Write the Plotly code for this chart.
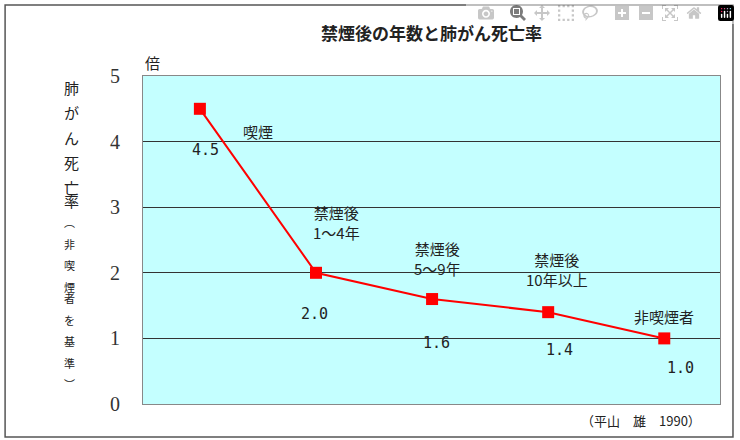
import plotly.graph_objects as go

categories = ["喫煙", "禁煙後<br>1～4年", "禁煙後<br>5～9年", "禁煙後<br>10年以上", "非喫煙者"]
values = [4.5, 2.0, 1.6, 1.4, 1.0]
value_labels = ["4.5", "2.0", "1.6", "1.4", "1.0"]
tick_vals = [0, 1, 2, 3, 4, 5]
axis_title_main = "肺がん死亡率"
axis_title_sub = "︵非喫煙者を基準︶"

xs = list(range(len(values)))
F = "Noto Sans CJK JP"
fig = go.Figure(go.Scatter(x=xs, y=values, mode="lines+markers",
    line=dict(color="#ff0000", width=2),
    marker=dict(symbol="square", size=12, color="#ff0000")))

cat_pos = [(0.5, 4.15), (1.18, 2.77), (2.05, 2.22), (3.08, 2.05), (4.0, 1.34)]
val_pos = [(0.05, 3.87), (-0.01, 1.37), (0.04, 0.93), (0.1, 0.82), (0.14, 0.55)]
ann = []
for i in xs:
    ann.append(dict(x=cat_pos[i][0], y=cat_pos[i][1], text=categories[i], showarrow=False,
                    font=dict(family=F, size=15, color="#222")))
    ann.append(dict(x=i + val_pos[i][0], y=val_pos[i][1], text=value_labels[i], showarrow=False,
                    font=dict(family="DejaVu Sans Mono", size=15, color="#222")))

def py(p):
    return (404 - p) / 328

for k, ch in enumerate(axis_title_main):
    ann.append(dict(xref="paper", yref="paper", x=-0.140, y=py(75 + 25 * k), text=ch,
                    showarrow=False, font=dict(family=F, size=15, color="#222")))
for k, ch in enumerate(axis_title_sub):
    ann.append(dict(xref="paper", yref="paper", x=-0.140, y=py(222 + 21.5 * k), text=ch,
                    showarrow=False, font=dict(family=F, size=11, color="#222")))
ann += [
    dict(xref="paper", yref="paper", x=0.5, y=py(18), text="<b>禁煙後の年数と肺がん死亡率</b>",
         showarrow=False, font=dict(family=F, size=17, color="#222")),
    dict(xref="paper", yref="paper", x=0.0, y=py(50), text="倍", showarrow=False,
         font=dict(family=F, size=15, color="#222")),
    dict(xref="paper", yref="paper", x=0.97, y=py(420), xanchor="right", yanchor="middle",
         text="（平山　雄　1990）", showarrow=False, font=dict(family=F, size=13, color="#222")),
]
fig.update_layout(
    width=740, height=440, margin=dict(l=143, r=20, t=76, b=36),
    paper_bgcolor="white", plot_bgcolor="#c4ffff", showlegend=False,
    annotations=ann,
    xaxis=dict(range=[-0.49, 4.48], showticklabels=False, showgrid=False, zeroline=False,
               showline=True, linecolor="#888", mirror=True),
    yaxis=dict(range=[0, 5], tickvals=tick_vals, showgrid=True, gridcolor="#333", gridwidth=1,
               zeroline=False, showline=True, linecolor="#888", mirror=True, ticks="",
               ticklabelstandoff=18,
               tickfont=dict(family="Liberation Serif", size=20, color="#333")),
    shapes=[dict(type="rect", xref="paper", yref="paper", x0=-0.239, x1=1.0225, y0=-0.1006, y1=1.2165,
                 line=dict(color="#555", width=1.5))],
)
fig.write_html("out.html", post_script="document.body.style.margin='0';")
